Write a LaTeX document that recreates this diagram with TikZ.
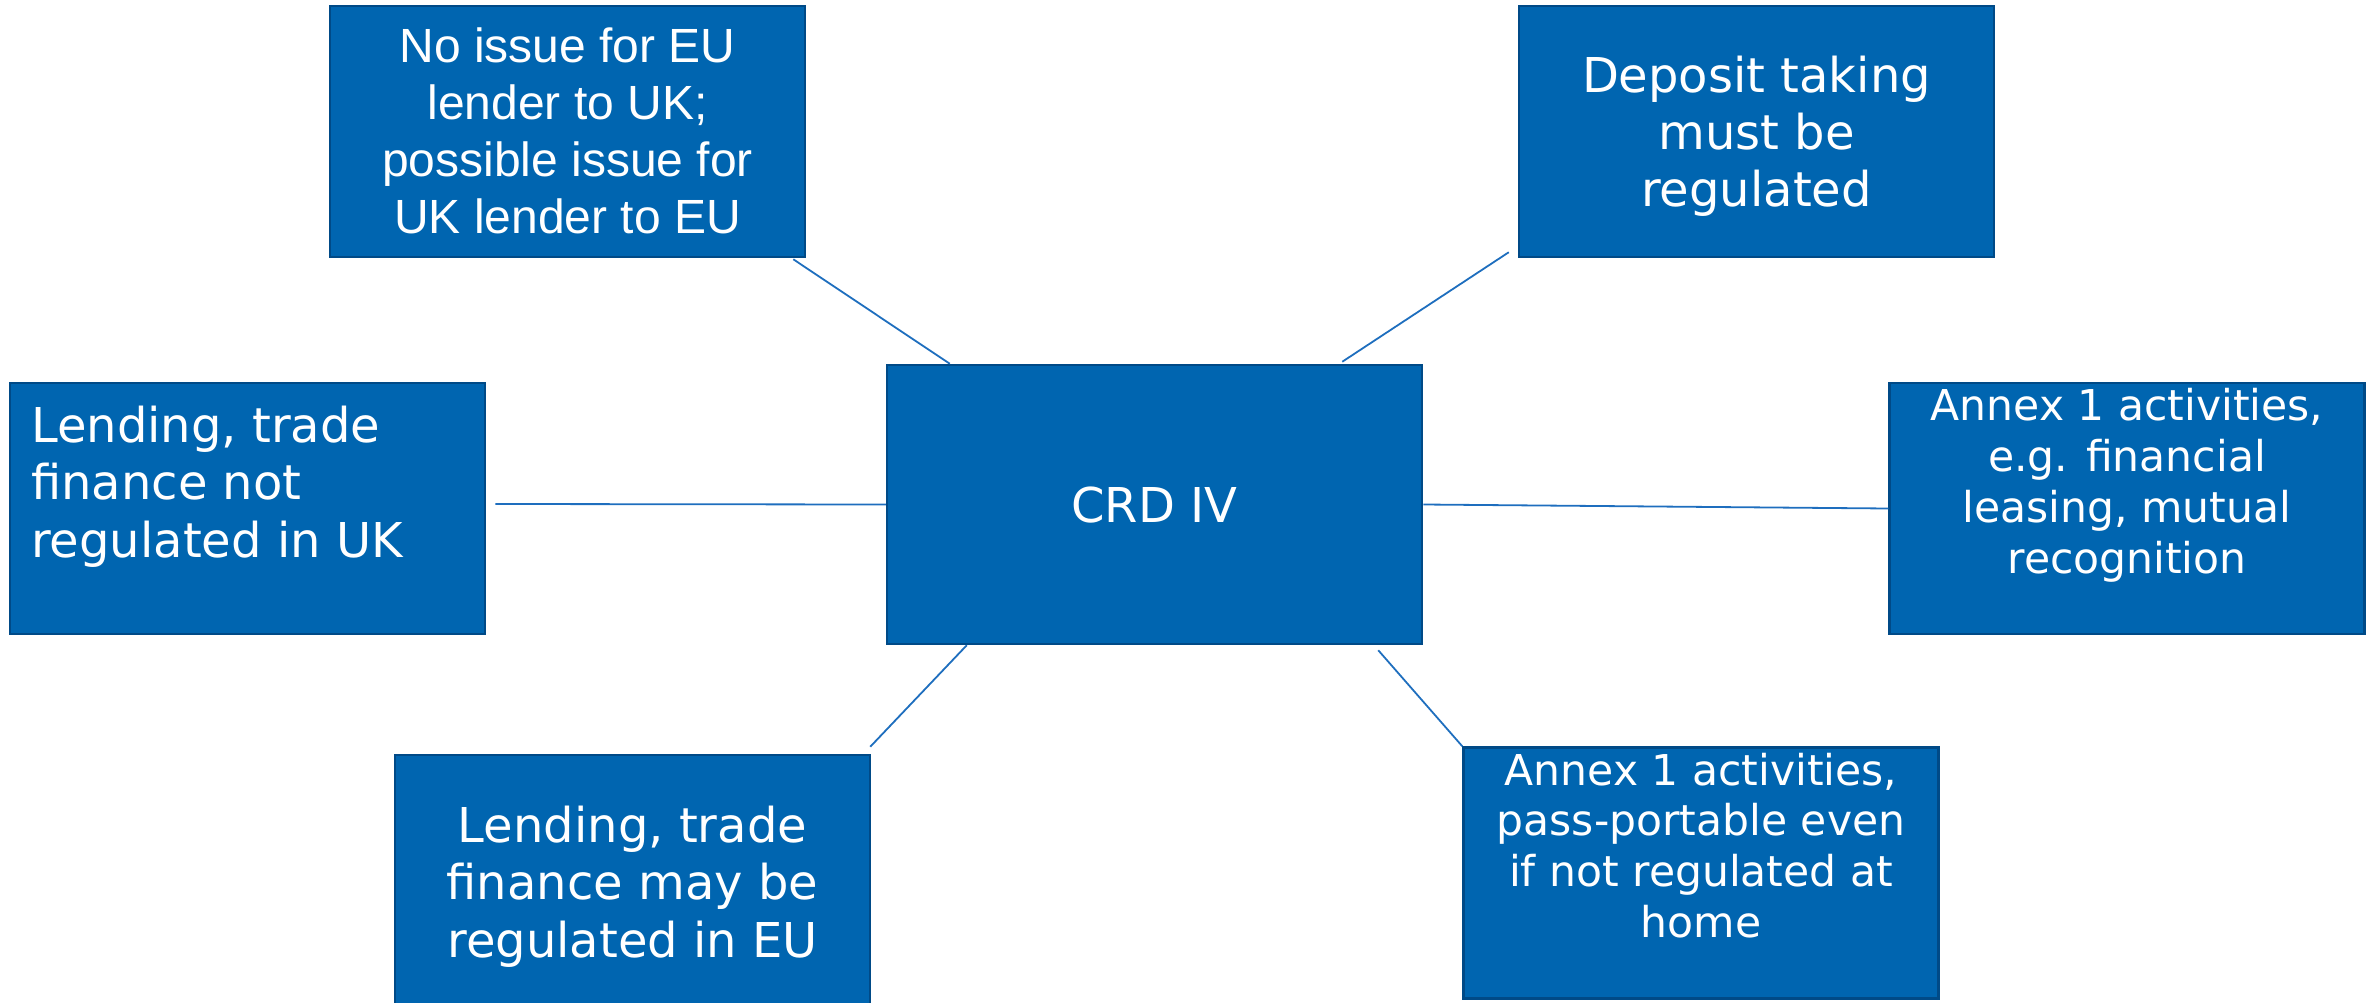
\documentclass[tikz,border=0pt]{standalone}
\usepackage{fontspec}
\setmainfont{DejaVu Sans}
\newfontfamily\arialfont{Liberation Sans}
\usetikzlibrary{calc}
\definecolor{boxfill}{RGB}{0,101,176}
\definecolor{boxedge}{RGB}{0,74,135}
\definecolor{linkblue}{RGB}{30,110,190}
\begin{document}
\begin{tikzpicture}[x=1pt,y=-1pt,
  box/.style={rectangle, fill=boxfill, draw=boxedge, line width=2.5pt, inner sep=0pt, minimum width=475pt, minimum height=251pt},
  boxtext/.style={inner sep=0pt, anchor=base, text=white},
  link/.style={draw=linkblue, line width=1.8pt}]
\useasboundingbox (0,0) rectangle (2374,1003);

% boxes
\node[box] (tl) at (567.5,131.5) {};
\node[box] (tr) at (1756.5,131.5) {};
\node[box] (l) at (247.5,508.5) {};
\node[box, minimum width=535pt, minimum height=279pt] (c) at (1154.5,504.5) {};
\node[box] (r) at (2127,508.5) {};
\node[box] (bl) at (632.5,880.5) {};
\node[box] (br) at (1701,873) {};

% texts
\node[boxtext] (tlt) at (567.5,63) {\parbox[t]{460pt}{\centering\arialfont\fontsize{48}{57}\selectfont No issue for EU\\lender to UK;\\possible issue for\\UK lender to EU}};
\node[boxtext] (trt) at (1756.5,93) {\parbox[t]{460pt}{\centering\fontsize{48}{57}\selectfont Deposit taking\\must be\\regulated}};
\node[boxtext, anchor=base west] (lt) at (31,442) {\parbox[t]{440pt}{\raggedright\fontsize{48}{57.5}\selectfont Lending, trade\\finance not\\regulated in UK}};
\node[boxtext] (ct) at (1154.5,522) {\fontsize{48}{57}\selectfont CRD IV};
\node[boxtext] (rt) at (2127,420) {\parbox[t]{460pt}{\centering\fontsize{42.5}{51}\selectfont Annex 1 activities,\\e.g. financial\\leasing, mutual\\recognition}};
\node[boxtext] (blt) at (632.5,842) {\parbox[t]{460pt}{\centering\fontsize{48}{57.5}\selectfont Lending, trade\\finance may be\\regulated in EU}};
\node[boxtext] (brt) at (1701,785) {\parbox[t]{460pt}{\centering\fontsize{42.5}{50.7}\selectfont Annex 1 activities,\\pass-portable even\\if not regulated at\\home}};

% connectors
\draw[link] ($(tl.south east)+(-13,1)$) -- ($(c.north west)+(64,0)$);
\draw[link] ($(tr.south west)+(-9,-6)$) -- ($(c.north east)+(-81,-2)$);
\draw[link] ($(l.east)+(9,-4.5)$) -- (c.west);
\draw[link] (c.east) -- (r.west);
\draw[link] ($(c.south west)+(81,0)$) -- ($(bl.north east)+(-1,-7)$);
\draw[link] ($(c.south east)+(-45,5)$) -- (br.north west);
\end{tikzpicture}
\end{document}
